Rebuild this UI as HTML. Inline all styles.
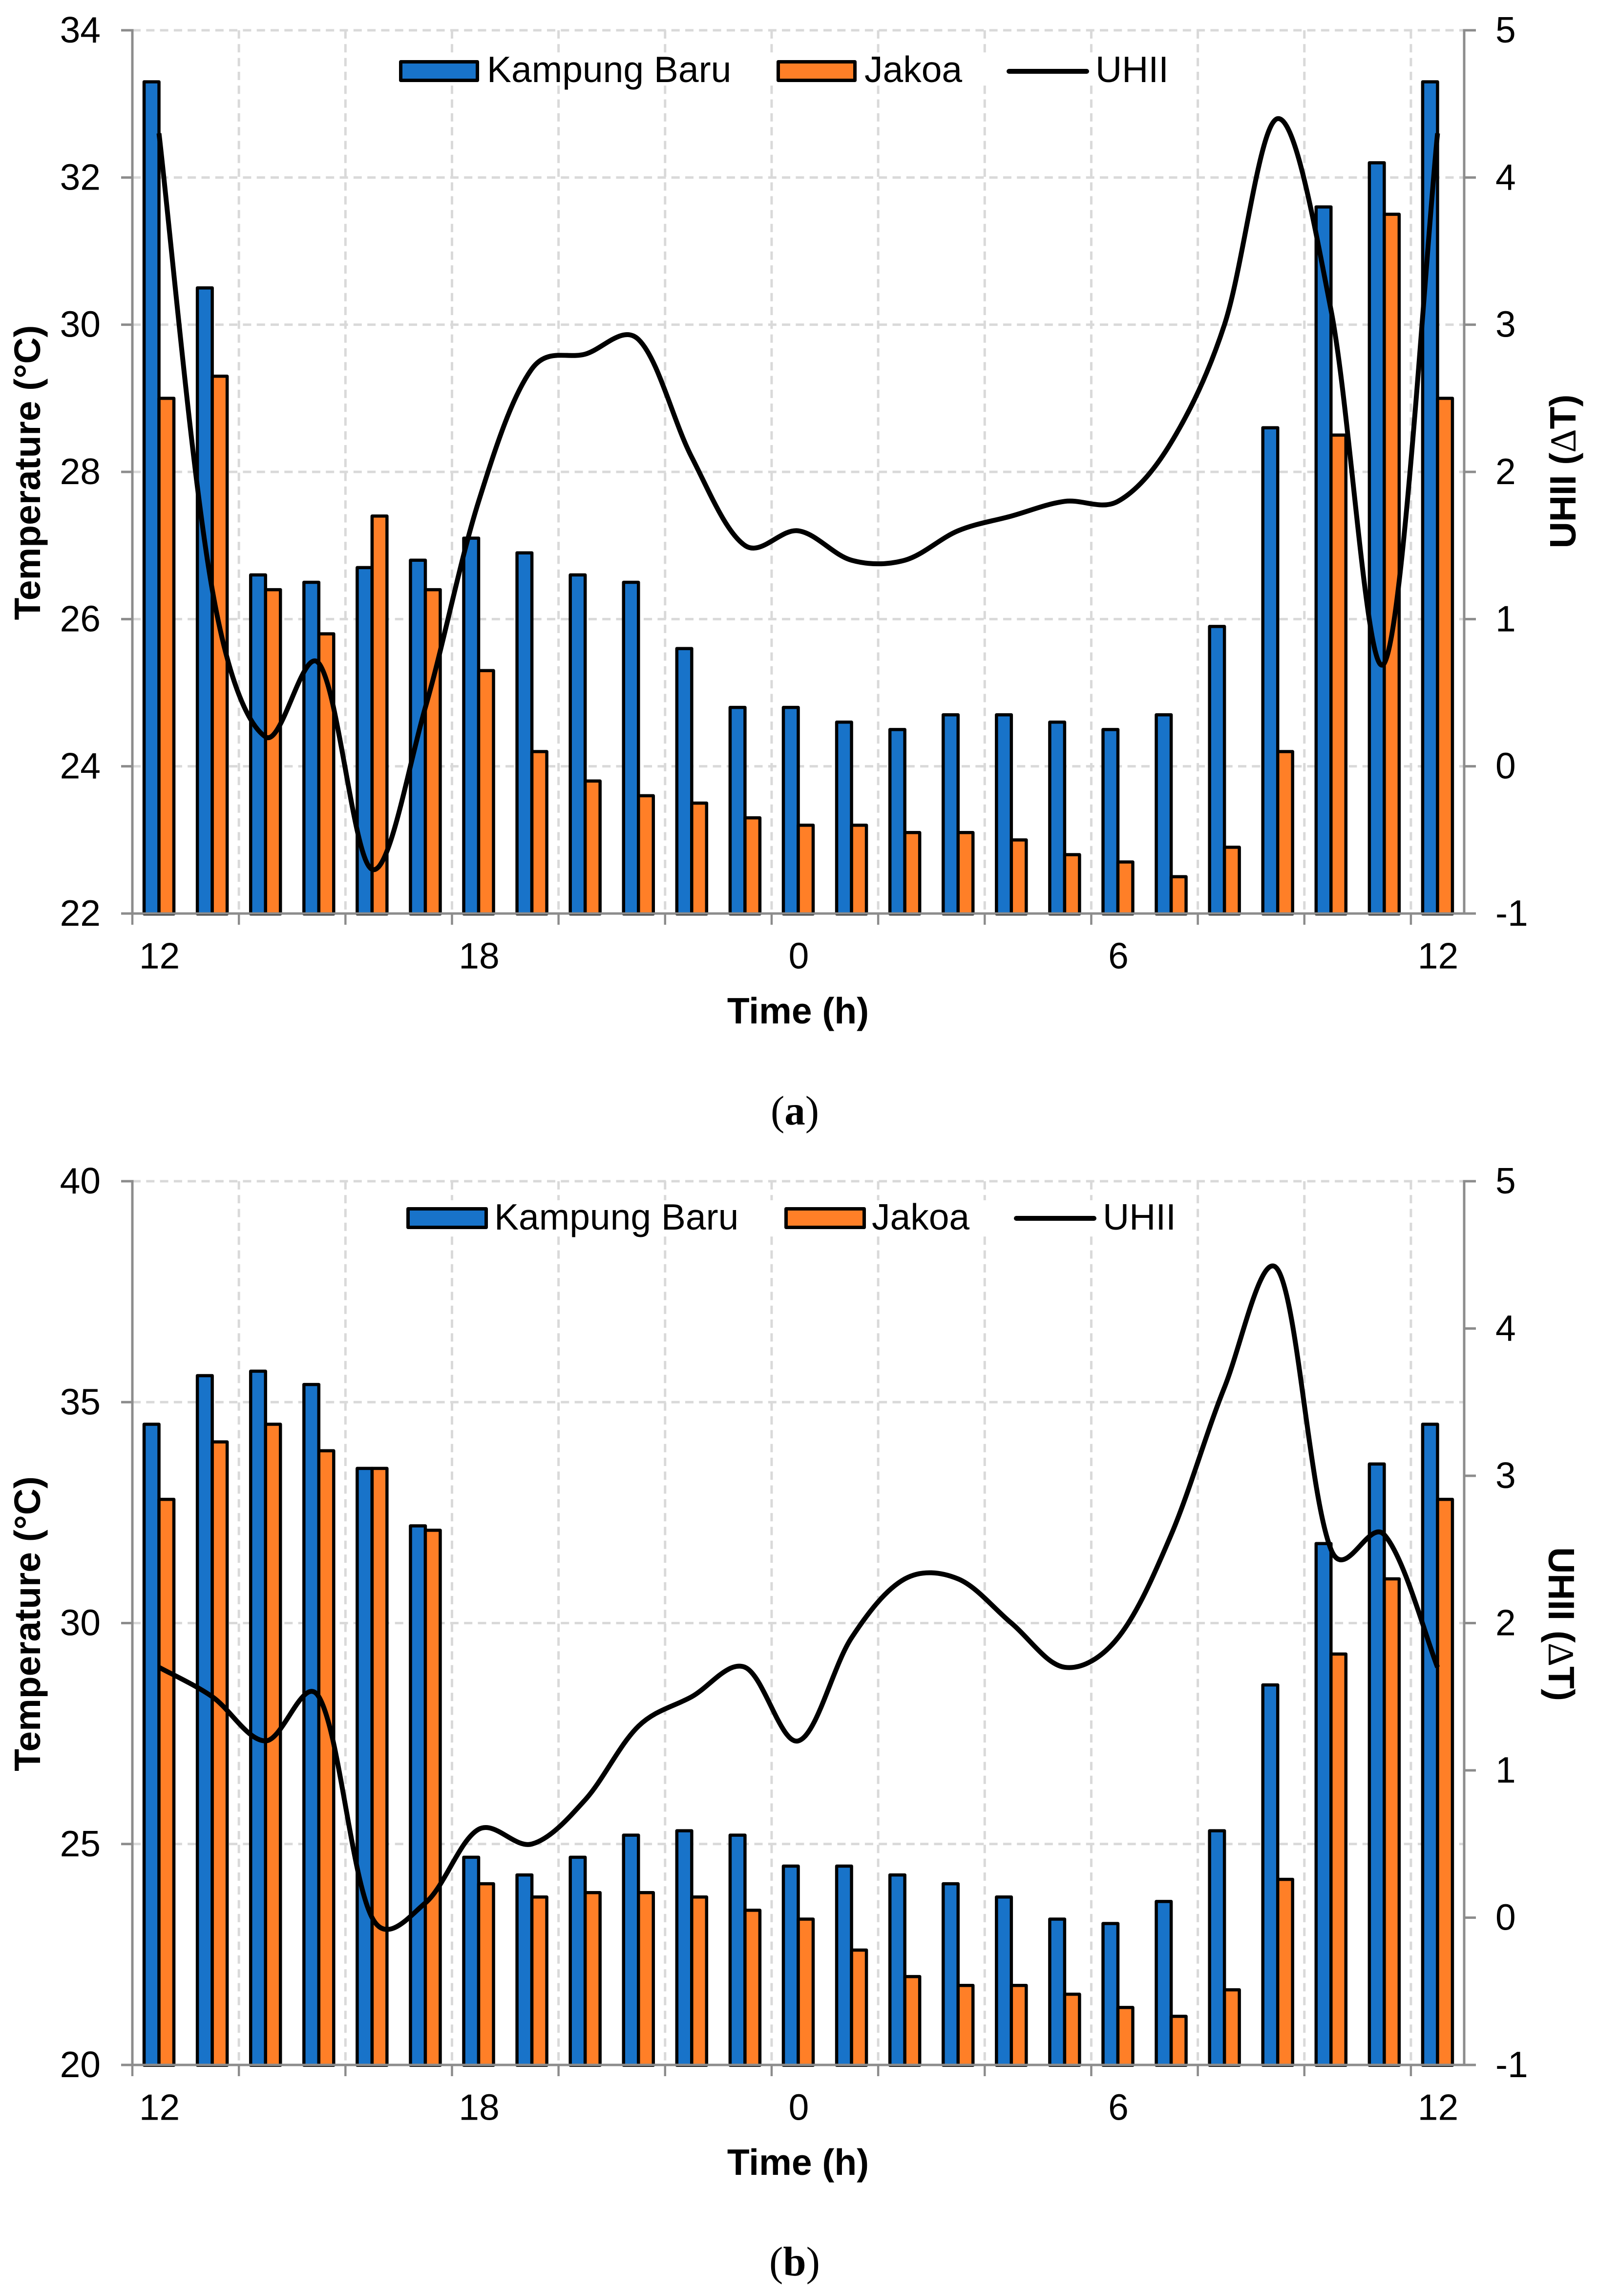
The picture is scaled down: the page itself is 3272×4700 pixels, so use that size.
<!DOCTYPE html>
<html lang="en">
<head>
<meta charset="utf-8">
<title>Temperature and UHII over time</title>
<style>
html,body{margin:0;padding:0;background:#fff;width:3272px;height:4700px;overflow:hidden}
svg{display:block;position:absolute;left:0;top:0}
text{font-family:"Liberation Sans",Arial,sans-serif;fill:#000}
.t75{font-size:75px}
.b75{font-size:75px;font-weight:bold}
.cap{font-family:"Liberation Serif","Times New Roman",serif;font-size:85px}
</style>
</head>
<body>
<svg id="figure" xmlns="http://www.w3.org/2000/svg" width="3272" height="4700" viewBox="0 0 3272 4700">
  <rect x="0" y="0" width="3272" height="4700" fill="#fff"/>

  <g id="chart-a">
    <g id="chart-a-marks"></g>
    <g>
      <rect x="805" y="108" width="1595" height="66" fill="#fff"/>
      <rect x="820.5" y="126.5" width="157" height="38" fill="#1873C9" stroke="#000" stroke-width="7" stroke-linejoin="round"/>
      <text class="t75" x="997" y="168">Kampung Baru</text>
      <rect x="1593.5" y="126.5" width="157" height="38" fill="#FF7F27" stroke="#000" stroke-width="7" stroke-linejoin="round"/>
      <text class="t75" x="1770" y="168">Jakoa</text>
      <line x1="2066" y1="146" x2="2225" y2="146" stroke="#000" stroke-width="10" stroke-linecap="round"/>
      <text class="t75" x="2243" y="168">UHII</text>
    </g>
    <text class="b75" text-anchor="middle" transform="translate(82,967.5) rotate(-90)">Temperature (°C)</text>
    <text class="b75" text-anchor="middle" transform="translate(3226,965) rotate(-90)">UHII (<tspan font-family="Liberation Serif, serif" font-weight="normal">Δ</tspan>T)</text>
    <text class="b75" text-anchor="middle" x="1634" y="2095">Time (h)</text>
    <text class="cap" text-anchor="middle" x="1627.5" y="2302">(<tspan font-weight="bold">a</tspan>)</text>
  </g>

  <g id="chart-b">
    <g id="chart-b-marks"></g>
    <g>
      <rect x="820" y="2457" width="1595" height="66" fill="#fff"/>
      <rect x="835.5" y="2474.5" width="160" height="38" fill="#1873C9" stroke="#000" stroke-width="7" stroke-linejoin="round"/>
      <text class="t75" x="1012" y="2517">Kampung Baru</text>
      <rect x="1609.5" y="2474.5" width="160" height="38" fill="#FF7F27" stroke="#000" stroke-width="7" stroke-linejoin="round"/>
      <text class="t75" x="1785" y="2517">Jakoa</text>
      <line x1="2081" y1="2494" x2="2240" y2="2494" stroke="#000" stroke-width="10" stroke-linecap="round"/>
      <text class="t75" x="2258" y="2517">UHII</text>
    </g>
    <text class="b75" text-anchor="middle" transform="translate(82,3324) rotate(-90)">Temperature (°C)</text>
    <text class="b75" text-anchor="middle" transform="translate(3171,3324.5) rotate(90)">UHII (<tspan font-family="Liberation Serif, serif" font-weight="normal">Δ</tspan>T)</text>
    <text class="b75" text-anchor="middle" x="1634" y="4452">Time (h)</text>
    <text class="cap" text-anchor="middle" x="1627" y="4658">(<tspan font-weight="bold">b</tspan>)</text>
  </g>
</svg>

<script>
var hours = [12,13,14,15,16,17,18,19,20,21,22,23,0,1,2,3,4,5,6,7,8,9,10,11,12];
var xTickLabelEvery = 6;
var xTickEvery = 2;

var kampungBaruA = [33.3,30.5,26.6,26.5,26.7,26.8,27.1,26.9,26.6,26.5,25.6,24.8,24.8,24.6,24.5,24.7,24.7,24.6,24.5,24.7,25.9,28.6,31.6,32.2,33.3];
var jakoaA = [29.0,29.3,26.4,25.8,27.4,26.4,25.3,24.2,23.8,23.6,23.5,23.3,23.2,23.2,23.1,23.1,23.0,22.8,22.7,22.5,22.9,24.2,28.5,31.5,29.0];
var uhiiA = [4.3,1.2,0.2,0.7,-0.7,0.4,1.8,2.7,2.8,2.9,2.1,1.5,1.6,1.4,1.4,1.6,1.7,1.8,1.8,2.2,3.0,4.4,3.1,0.7,4.3];
var leftTicksA = [22,24,26,28,30,32,34];

var kampungBaruB = [34.5,35.6,35.7,35.4,33.5,32.2,24.7,24.3,24.7,25.2,25.3,25.2,24.5,24.5,24.3,24.1,23.8,23.3,23.2,23.7,25.3,28.6,31.8,33.6,34.5];
var jakoaB = [32.8,34.1,34.5,33.9,33.5,32.1,24.1,23.8,23.9,23.9,23.8,23.5,23.3,22.6,22.0,21.8,21.8,21.6,21.3,21.1,21.7,24.2,29.3,31.0,32.8];
var uhiiB = [1.7,1.5,1.2,1.5,0.0,0.1,0.6,0.5,0.8,1.3,1.5,1.7,1.2,1.9,2.3,2.3,2.0,1.7,1.9,2.6,3.6,4.4,2.5,2.6,1.7];
var leftTicksB = [20,25,30,35,40];

var rightTicks = [-1,0,1,2,3,4,5];

var NS = 'http://www.w3.org/2000/svg';
var PLOT_LEFT = 271, PLOT_RIGHT = 2998, GREY = '#8C8C8C', GRID = '#D9D9D9';

function mk(parent, tag, attrs, txt) {
  var el = document.createElementNS(NS, tag);
  for (var k in attrs) el.setAttribute(k, attrs[k]);
  if (txt !== undefined) el.textContent = txt;
  parent.appendChild(el);
  return el;
}

function chord(a, b) {
  return Math.sqrt((b[0] - a[0]) * (b[0] - a[0]) + (b[1] - a[1]) * (b[1] - a[1])) || 1;
}

function drawChart(g, top, bottom, kb, ja, uh, leftTicks) {
  var n = hours.length;
  var band = (PLOT_RIGHT - PLOT_LEFT) / n;
  var barW = 30.5;
  var xC = function (i) { return PLOT_LEFT + band * (i + 0.5); };
  var xEdge = function (i) { return PLOT_LEFT + band * i; };
  var lMin = leftTicks[0], lMax = leftTicks[leftTicks.length - 1];
  var rMin = rightTicks[0], rMax = rightTicks[rightTicks.length - 1];
  var yL = function (v) { return bottom - (v - lMin) / (lMax - lMin) * (bottom - top); };
  var yR = function (v) { return bottom - (v - rMin) / (rMax - rMin) * (bottom - top); };
  var el, i;

  // gridlines
  leftTicks.forEach(function (t) {
    if (t === lMin) return;
    var el = mk(g, 'line', {x1: PLOT_LEFT, x2: PLOT_RIGHT, y1: yL(t), y2: yL(t), stroke: GRID, 'stroke-width': 5, 'stroke-dasharray': '17 11.3'});
    
    
  });
  for (i = xTickEvery; i < n; i += xTickEvery) {
    el = mk(g, 'line', {x1: xEdge(i), x2: xEdge(i), y1: top, y2: bottom, stroke: GRID, 'stroke-width': 5, 'stroke-dasharray': '17 11.3'});
    
    
  }

  // bars
  for (i = 0; i < n; i++) {
    el = mk(g, 'rect', {x: xC(i) - barW, y: yL(kb[i]), width: barW, height: bottom + 0.7 - yL(kb[i]), fill: '#1873C9', stroke: '#000', 'stroke-width': 6.5, 'stroke-linejoin': 'round'});
    
    
    el = mk(g, 'rect', {x: xC(i), y: yL(ja[i]), width: barW, height: bottom + 0.7 - yL(ja[i]), fill: '#FF7F27', stroke: '#000', 'stroke-width': 6.5, 'stroke-linejoin': 'round'});
    
    
  }

  // axes
  el = mk(g, 'line', {x1: PLOT_LEFT, x2: PLOT_LEFT, y1: top - 2.5, y2: bottom + 2.5, stroke: GREY, 'stroke-width': 5});
  
  
  el = mk(g, 'line', {x1: PLOT_RIGHT, x2: PLOT_RIGHT, y1: top - 2.5, y2: bottom + 2.5, stroke: GREY, 'stroke-width': 5});
  
  
  el = mk(g, 'line', {x1: PLOT_LEFT - 23, x2: PLOT_RIGHT + 24, y1: bottom, y2: bottom, stroke: GREY, 'stroke-width': 5});
  
  

  // x ticks and labels
  for (i = 0; i <= n; i += xTickEvery) {
    if (xEdge(i) > PLOT_RIGHT - 1) break;
    el = mk(g, 'line', {x1: xEdge(i), x2: xEdge(i), y1: bottom, y2: bottom + 23, stroke: GREY, 'stroke-width': 4.5});
    
    
  }
  for (i = 0; i < n; i += xTickLabelEvery) {
    el = mk(g, 'text', {x: xC(i) + 1, y: bottom + 112.5, 'text-anchor': 'middle', 'class': 't75'}, String(hours[i]));
    
    
  }

  // left ticks and labels
  leftTicks.forEach(function (t) {
    var el = mk(g, 'line', {x1: PLOT_LEFT - 23, x2: PLOT_LEFT, y1: yL(t), y2: yL(t), stroke: GREY, 'stroke-width': 5});
    
    
    el = mk(g, 'text', {x: 206, y: yL(t) + 25, 'text-anchor': 'end', 'class': 't75'}, String(t));
    
    
  });

  // right ticks and labels
  rightTicks.forEach(function (t) {
    var el = mk(g, 'line', {x1: PLOT_RIGHT, x2: PLOT_RIGHT + 24, y1: yR(t), y2: yR(t), stroke: GREY, 'stroke-width': 5});
    
    
    el = mk(g, 'text', {x: 3062, y: yR(t) + 25, 'text-anchor': 'start', 'class': 't75'}, String(t));
    
    
  });

  // UHII smoothed line (blend of uniform and chord-weighted tangents)
  var pts = uh.map(function (v, k) { return [xC(k), yR(v)]; });
  var d = 'M' + pts[0][0].toFixed(2) + ' ' + pts[0][1].toFixed(2);
  for (i = 0; i < pts.length - 1; i++) {
    var p0 = pts[Math.max(i - 1, 0)], p1 = pts[i], p2 = pts[i + 1], p3 = pts[Math.min(i + 2, pts.length - 1)];
    var d01 = chord(p0, p1), d12 = chord(p1, p2), d23 = chord(p2, p3);
    var w1 = 0.7 / 6 + 0.3 * d12 / (d01 + d12) / 3, w2 = 0.7 / 6 + 0.3 * d12 / (d12 + d23) / 3;
    var c1x = p1[0] + (p2[0] - p0[0]) * w1, c1y = p1[1] + (p2[1] - p0[1]) * w1;
    var c2x = p2[0] - (p3[0] - p1[0]) * w2, c2y = p2[1] - (p3[1] - p1[1]) * w2;
    d += 'C' + c1x.toFixed(2) + ' ' + c1y.toFixed(2) + ' ' + c2x.toFixed(2) + ' ' + c2y.toFixed(2) + ' ' + p2[0].toFixed(2) + ' ' + p2[1].toFixed(2);
  }
  el = mk(g, 'path', {d: d, fill: 'none', stroke: '#000', 'stroke-width': 10, 'stroke-linejoin': 'round'});
  
  
}

drawChart(document.getElementById('chart-a-marks'), 62, 1870, kampungBaruA, jakoaA, uhiiA, leftTicksA);
drawChart(document.getElementById('chart-b-marks'), 2418, 4227, kampungBaruB, jakoaB, uhiiB, leftTicksB);
</script>
</body>
</html>
